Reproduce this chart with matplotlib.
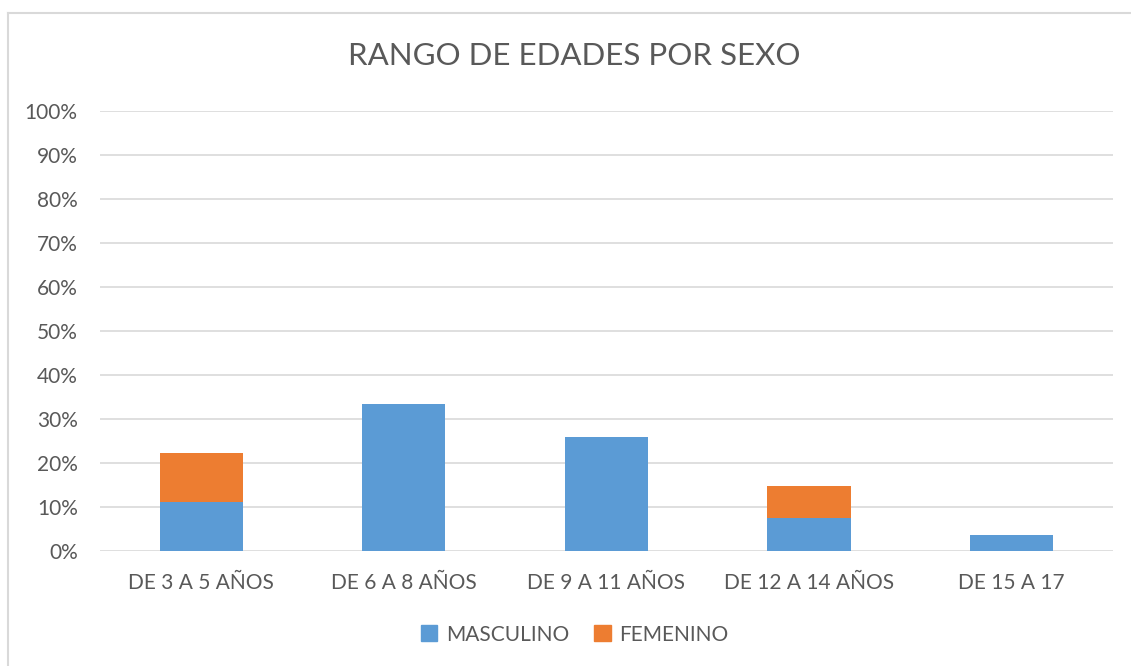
import matplotlib.pyplot as plt
import matplotlib.patches as mpatches
import matplotlib.lines as mlines
import numpy as np

categorias = ['DE 3 A 5 AÑOS', 'DE 6 A 8 AÑOS', 'DE 9 A 11 AÑOS', 'DE 12 A 14 AÑOS', 'DE 15 A 17']
masculino = [0.111, 0.333, 0.259, 0.074, 0.037]
femenino = [0.111, 0.0, 0.0, 0.074, 0.0]
ticks_y = [0, 0.1, 0.2, 0.3, 0.4, 0.5, 0.6, 0.7, 0.8, 0.9, 1.0]

azul = '#5b9bd5'
naranja = '#ed7d31'
gris_texto = '#595959'

plt.rcParams['font.family'] = ['Lato', 'DejaVu Sans']

fig = plt.figure(figsize=(11.31, 6.66), dpi=100)
ax = fig.add_axes([0.0884, 0.1727, 0.8956, 0.6606])

x = np.arange(len(categorias))
ax.bar(x, masculino, width=0.41, color=azul, label='MASCULINO', zorder=3)
ax.bar(x, femenino, width=0.41, bottom=masculino, color=naranja, label='FEMENINO', zorder=3)

ax.set_xlim(-0.5, len(categorias) - 0.5)
ax.set_ylim(0, 1.0)
ax.set_yticks(ticks_y)
ax.set_yticklabels([f'{int(round(t * 100))}%' for t in ticks_y])
ax.set_xticks(x)
ax.set_xticklabels(categorias)
ax.tick_params(axis='both', length=0, labelsize=15, colors=gris_texto)
ax.tick_params(axis='x', pad=16)
ax.tick_params(axis='y', pad=16)
ax.grid(axis='y', color='#d9d9d9', linewidth=1.2, zorder=0)
for s in ax.spines.values():
    s.set_visible(False)

fig.text(0.508, 0.916, 'RANGO DE EDADES POR SEXO', ha='center', va='center',
         fontsize=22.5, color=gris_texto)

handles = [mpatches.Patch(color=azul, label='MASCULINO'),
           mpatches.Patch(color=naranja, label='FEMENINO')]
fig.legend(handles=handles, loc='center', bbox_to_anchor=(0.508, 0.047), ncol=2,
           frameon=False, fontsize=15, labelcolor=gris_texto,
           handlelength=0.8, handleheight=0.8, handletextpad=0.4, columnspacing=1.2)

# marco del grafico (solo se ven el borde izquierdo y el superior)
fig.add_artist(mlines.Line2D([0.0075, 0.0075], [0.0, 0.9805], transform=fig.transFigure,
                             color='#d9d9d9', linewidth=1.5))
fig.add_artist(mlines.Line2D([0.0075, 1.0], [0.9805, 0.9805], transform=fig.transFigure,
                             color='#d9d9d9', linewidth=1.5))

fig.savefig('out.png', dpi=100)
